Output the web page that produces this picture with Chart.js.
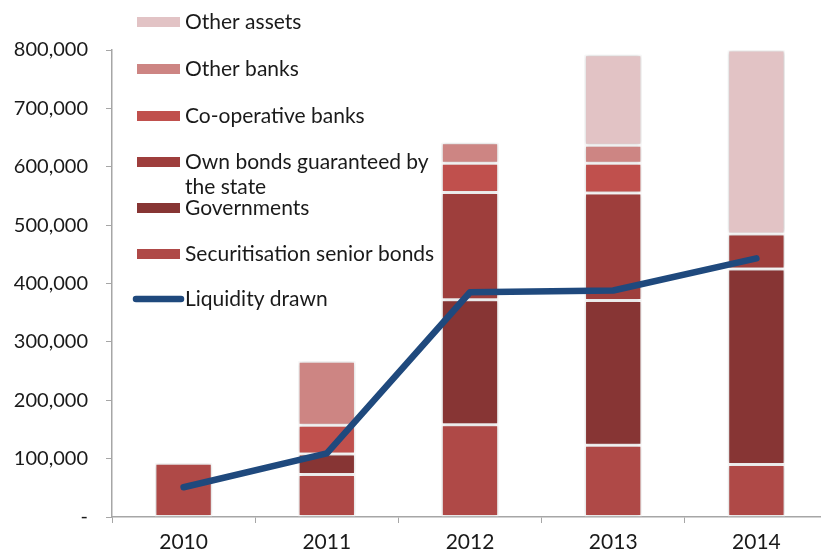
<!DOCTYPE html>
<html>
<head>
<meta charset="utf-8">
<script src="https://cdn.jsdelivr.net/npm/chart.js@4/dist/chart.umd.min.js"></script>
<style>
  html, body { margin: 0; padding: 0; background: #fff; overflow: hidden; }
  #wrap { position: relative; width: 828px; height: 553px; }
</style>
</head>
<body>
<div id="wrap"><canvas id="chart"></canvas></div>
<script>
// === Data ===
const years = ["2010", "2011", "2012", "2013", "2014"];

const securitisation = [92000, 73000, 158000, 123000, 90000];
const governments    = [null, 35000, 214000, 248000, 335000];
const ownBonds       = [null, null, 184000, 184000, 60000];
const coopBanks      = [null, 49000, 50000, 51000, null];
const otherBanks     = [null, 110000, 35000, 31000, null];
const otherAssets    = [null, null, null, 155000, 315000];
const liquidity      = [51000, 109000, 385000, 388000, 443000];

const yTicks = [0, 100000, 200000, 300000, 400000, 500000, 600000, 700000, 800000];

const FONT = "Lato, 'Open Sans', sans-serif";
const TEXT = "#1a1a1a";
const AXIS = "#a6a6a6";

function barSet(label, data, color) {
  return {
    type: "bar",
    label: label,
    data: data,
    backgroundColor: color,
    borderColor: "#ffffff",
    borderWidth: 1.5,
    borderSkipped: false,
    stack: "assets",
    order: 1,
    categoryPercentage: 1,
    barPercentage: 0.4
  };
}

// legend entries, top to bottom
const legendItems = [
  { text: ["Other assets"], color: "#e2c3c5" },
  { text: ["Other banks"], color: "#cd8583" },
  { text: ["Co-operative banks"], color: "#c0504d" },
  { text: ["Own bonds guaranteed by", "the state"], color: "#9e3e3c" },
  { text: ["Governments"], color: "#873534" },
  { text: ["Securitisation senior bonds"], color: "#af4947" },
  { text: ["Liquidity drawn"], color: "#1f497d", line: true }
];
const legendRows = [22, 69, 116, 162, 208, 254, 299];

// soft grey shadow round the bar columns
const barShadow = {
  id: "barShadow",
  beforeDatasetDraw(chart, args) {
    if (args.meta.type !== "bar") return;
    const ctx = chart.ctx;
    ctx.save();
    ctx.shadowColor = "rgba(0,0,0,0.22)";
    ctx.shadowBlur = 4;
  },
  afterDatasetDraw(chart, args) {
    if (args.meta.type !== "bar") return;
    chart.ctx.restore();
  }
};

// legend drawn in the upper left of the plot
const sideLegend = {
  id: "sideLegend",
  afterDraw(chart) {
    const ctx = chart.ctx;
    ctx.save();
    ctx.font = "21px " + FONT;
    ctx.textBaseline = "middle";
    ctx.fillStyle = TEXT;
    legendItems.forEach((item, i) => {
      const y = legendRows[i];
      if (item.line) {
        ctx.strokeStyle = item.color;
        ctx.lineWidth = 6.5;
        ctx.lineCap = "round";
        ctx.beginPath();
        ctx.moveTo(136, y);
        ctx.lineTo(181, y);
        ctx.stroke();
      } else {
        ctx.fillStyle = item.color;
        ctx.fillRect(137, y - 5, 43, 10);
      }
      ctx.fillStyle = TEXT;
      item.text.forEach((t, j) => ctx.fillText(t, 185, y + j * 25));
    });
    ctx.restore();
  }
};

new Chart(document.getElementById("chart"), {
  data: {
    labels: years,
    datasets: [
      {
        type: "line",
        label: "Liquidity drawn",
        data: liquidity,
        borderColor: "#1f497d",
        borderWidth: 6.5,
        borderCapStyle: "round",
        borderJoinStyle: "round",
        pointRadius: 0,
        tension: 0,
        order: 0
      },
      barSet("Securitisation senior bonds", securitisation, "#af4947"),
      barSet("Governments", governments, "#873534"),
      barSet("Own bonds guaranteed by the state", ownBonds, "#9e3e3c"),
      barSet("Co-operative banks", coopBanks, "#c0504d"),
      barSet("Other banks", otherBanks, "#cd8583"),
      barSet("Other assets", otherAssets, "#e2c3c5")
    ]
  },
  options: {
    responsive: true,
    maintainAspectRatio: false,
    animation: false,
    layout: { padding: { top: 50, left: 0, right: 0, bottom: 0 } },
    plugins: {
      legend: { display: false },
      tooltip: { enabled: false }
    },
    scales: {
      x: {
        stacked: true,
        afterFit: s => { s.height = 36; },
        grid: { drawOnChartArea: false, drawTicks: true, tickLength: 6, color: AXIS, offset: true },
        border: { color: AXIS, width: 1.5 },
        ticks: { color: TEXT, font: { family: FONT, size: 21 }, padding: 7 }
      },
      y: {
        stacked: true,
        min: 0,
        max: 800000,
        afterFit: s => { s.width = 112; },
        afterBuildTicks: s => { s.ticks = yTicks.map(v => ({ value: v })); },
        grid: { drawOnChartArea: false, drawTicks: true, tickLength: 6, color: AXIS },
        border: { color: AXIS, width: 1.5 },
        ticks: {
          color: TEXT,
          font: { family: FONT, size: 20 },
          padding: 18,
          callback: v => v === 0 ? "-" : v.toLocaleString("en-US")
        }
      }
    }
  },
  plugins: [barShadow, sideLegend]
});
</script>
</body>
</html>
